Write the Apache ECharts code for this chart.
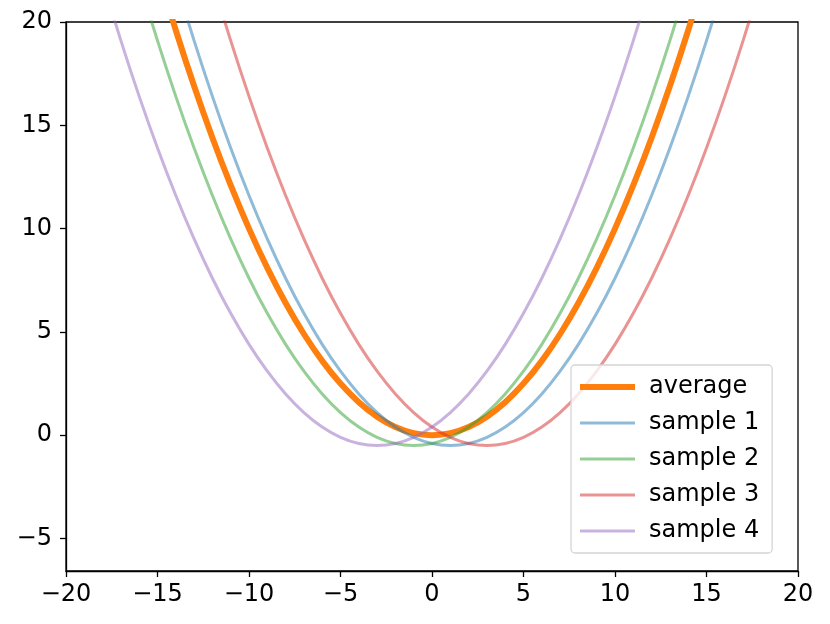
<!DOCTYPE html>
<html lang="en">
<head>
    <meta charset="UTF-8">
    <title>average and samples</title>
    <style>
        html, body { margin: 0; padding: 0; background: #fff; }
        #app { width: 830px; height: 624px; }
    </style>
    <script src="https://cdn.jsdelivr.net/npm/echarts@6.0.0/dist/echarts.min.js"></script>
</head>
<body>
    <div id="app"></div>
    <script>
        var xs = [-18, -17, -16, -15, -14, -13, -12, -11, -10, -9, -8, -7, -6, -5, -4, -3, -2, -1, 0,
            1, 2, 3, 4, 5, 6, 7, 8, 9, 10, 11, 12, 13, 14, 15, 16, 17, 18]

        var average = [32.4, 28.9, 25.6, 22.5, 19.6, 16.9, 14.4, 12.1, 10.0, 8.1, 6.4, 4.9, 3.6, 2.5, 1.6, 0.9, 0.4, 0.1, 0,
            0.1, 0.4, 0.9, 1.6, 2.5, 3.6, 4.9, 6.4, 8.1, 10.0, 12.1, 14.4, 16.9, 19.6, 22.5, 25.6, 28.9, 32.4]
        var sample1 = [35.6, 31.9, 28.4, 25.1, 22.0, 19.1, 16.4, 13.9, 11.6, 9.5, 7.6, 5.9, 4.4, 3.1, 2.0, 1.1, 0.4, -0.1, -0.4,
            -0.5, -0.4, -0.1, 0.4, 1.1, 2.0, 3.1, 4.4, 5.9, 7.6, 9.5, 11.6, 13.9, 16.4, 19.1, 22.0, 25.1, 28.4]
        var sample2 = [28.4, 25.1, 22.0, 19.1, 16.4, 13.9, 11.6, 9.5, 7.6, 5.9, 4.4, 3.1, 2.0, 1.1, 0.4, -0.1, -0.4, -0.5, -0.4,
            -0.1, 0.4, 1.1, 2.0, 3.1, 4.4, 5.9, 7.6, 9.5, 11.6, 13.9, 16.4, 19.1, 22.0, 25.1, 28.4, 31.9, 35.6]
        var sample3 = [43.6, 39.5, 35.6, 31.9, 28.4, 25.1, 22.0, 19.1, 16.4, 13.9, 11.6, 9.5, 7.6, 5.9, 4.4, 3.1, 2.0, 1.1, 0.4,
            -0.1, -0.4, -0.5, -0.4, -0.1, 0.4, 1.1, 2.0, 3.1, 4.4, 5.9, 7.6, 9.5, 11.6, 13.9, 16.4, 19.1, 22.0]
        var sample4 = [22.0, 19.1, 16.4, 13.9, 11.6, 9.5, 7.6, 5.9, 4.4, 3.1, 2.0, 1.1, 0.4, -0.1, -0.4, -0.5, -0.4, -0.1, 0.4,
            1.1, 2.0, 3.1, 4.4, 5.9, 7.6, 9.5, 11.6, 13.9, 16.4, 19.1, 22.0, 25.1, 28.4, 31.9, 35.6, 39.5, 43.6]

        var names = ['average', 'sample 1', 'sample 2', 'sample 3', 'sample 4']
        var colors = ['#ff7f0e', '#1f77b4', '#2ca02c', '#d62728', '#9467bd']
        var yTicks = [-5, 0, 5, 10, 15, 20]

        var font = 'DejaVu Sans'

        function pairs(ys) {
            return xs.map(function (x, i) { return [x, ys[i]] })
        }
        // matplotlib style minus sign
        function minus(v) {
            return String(v).replace('-', '\u2212')
        }

        var allSeries = [average, sample1, sample2, sample3, sample4]

        var mychart = echarts.init(document.getElementById('app'), null, { renderer: 'canvas' })

        var option = {
            animation: false,
            grid: {
                left: 66, right: 32, top: 22, bottom: 53,
                show: true, borderColor: '#000', borderWidth: 1.3,
                backgroundColor: 'transparent'
            },
            xAxis: {
                type: 'value', min: -20, max: 20, interval: 5,
                axisLine: { show: true, onZero: false, lineStyle: { color: '#000', width: 1.3 } },
                axisTick: { show: true, length: 6, lineStyle: { color: '#000', width: 1.3 } },
                axisLabel: { color: '#000', fontFamily: font, fontSize: 24, margin: 12, formatter: minus },
                splitLine: { show: false }
            },
            yAxis: {
                type: 'value', min: -6.57, max: 20,
                axisLine: { show: true, onZero: false, lineStyle: { color: '#000', width: 1.3 } },
                axisTick: { show: true, length: 6, customValues: yTicks, lineStyle: { color: '#000', width: 1.3 } },
                axisLabel: { color: '#000', fontFamily: font, fontSize: 24, margin: 14, customValues: yTicks, formatter: minus },
                splitLine: { show: false }
            },
            legend: {
                orient: 'vertical',
                left: 571, top: 365,
                padding: [9, 13, 9, 6],
                itemWidth: 55, itemHeight: 14, itemGap: 10,
                backgroundColor: 'rgba(255,255,255,0.8)',
                borderColor: '#d5d5d5', borderWidth: 1.3, borderRadius: 4,
                textStyle: { color: '#000', fontFamily: font, fontSize: 24, lineHeight: 26, padding: [0, 0, 0, 9] },
                data: names.map(function (n, i) {
                    return {
                        name: n,
                        itemStyle: { opacity: 0 },
                        lineStyle: { width: i === 0 ? 6 : 3, color: colors[i], opacity: i === 0 ? 1 : 0.5 }
                    }
                })
            },
            series: allSeries.map(function (ys, i) {
                return {
                    name: names[i],
                    type: 'line',
                    data: pairs(ys),
                    smooth: 0.4,
                    symbol: 'none',
                    clip: true,
                    color: colors[i],
                    lineStyle: { width: i === 0 ? 6 : 3, color: colors[i], opacity: i === 0 ? 1 : 0.5 }
                }
            })
        }
        mychart.setOption(option)
    </script>
</body>
</html>
